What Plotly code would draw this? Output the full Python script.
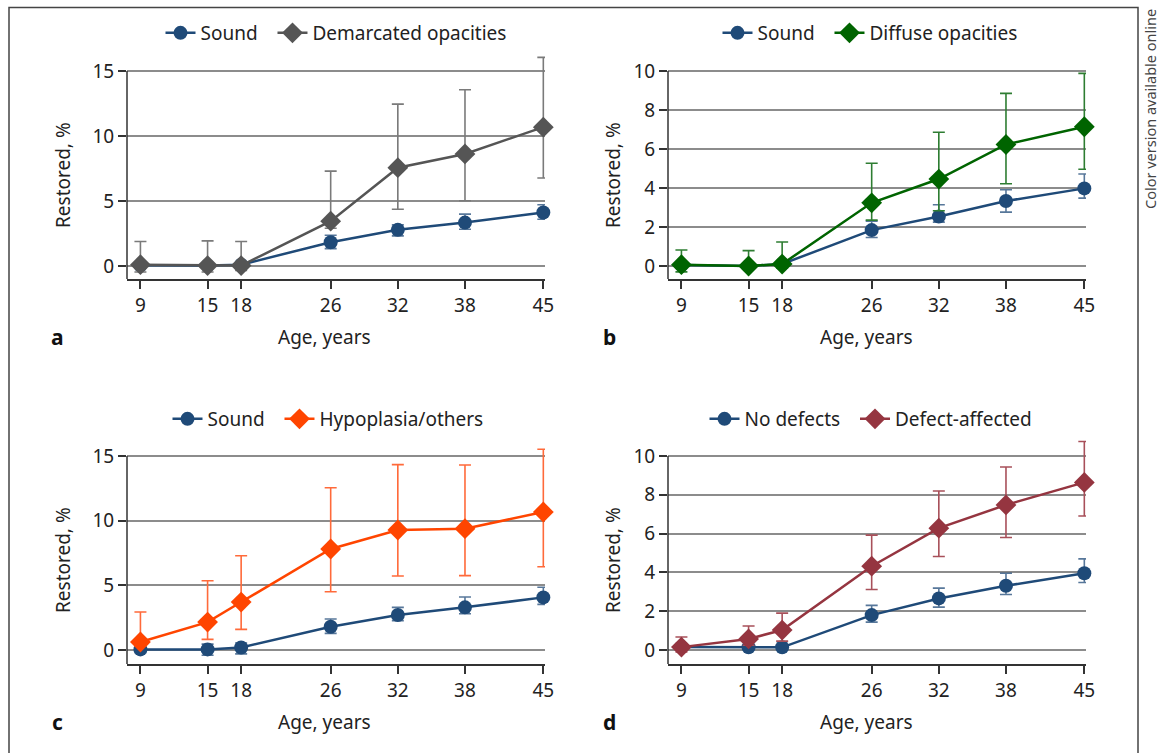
import plotly.graph_objects as go

ages = [9, 15, 18, 26, 32, 38, 45]
age_labels = ["9", "15", "18", "26", "32", "38", "45"]

# Panel a
a_sound = [0.05, 0.03, 0.1, 1.83, 2.78, 3.34, 4.12]
a_sound_up = [0.05, 0.05, 0.05, 2.37, 3.16, 3.99, 4.71]
a_sound_lo = [0.0, 0.0, 0.05, 1.34, 2.32, 2.83, 3.6]
a_dem = [0.1, 0.03, 0.03, 3.45, 7.56, 8.62, 10.68]
a_dem_up = [1.88, 1.93, 1.88, 7.3, 12.45, 13.56, 16.05]
a_dem_lo = [-0.46, -0.46, -0.35, 2.9, 4.37, 5.02, 6.77]

# Panel b
b_sound = [0.05, 0.0, 0.1, 1.84, 2.54, 3.33, 3.98]
b_sound_up = [0.05, 0.0, 0.1, 2.3, 3.14, 3.91, 4.72]
b_sound_lo = [0.05, 0.0, 0.1, 1.46, 2.25, 2.76, 3.48]
b_dif = [0.07, 0.0, 0.1, 3.24, 4.46, 6.23, 7.14]
b_dif_up = [0.82, 0.79, 1.23, 5.27, 6.86, 8.85, 9.88]
b_dif_lo = [-0.3, -0.1, -0.1, 2.35, 2.83, 4.22, 4.96]

# Panel c
c_sound = [0.05, 0.05, 0.2, 1.8, 2.71, 3.3, 4.07]
c_sound_up = [0.25, 0.46, 0.54, 2.4, 3.3, 4.1, 4.85]
c_sound_lo = [-0.2, -0.4, -0.3, 1.29, 2.27, 2.81, 3.53]
c_hyp = [0.62, 2.16, 3.71, 7.81, 9.28, 9.38, 10.67]
c_hyp_up = [2.94, 5.36, 7.29, 12.55, 14.33, 14.3, 15.52]
c_hyp_lo = [0.3, 0.82, 1.6, 4.51, 5.72, 5.75, 6.44]

# Panel d
d_nodef = [0.15, 0.14, 0.14, 1.8, 2.66, 3.31, 3.96]
d_nodef_up = [0.15, 0.14, 0.14, 2.3, 3.19, 3.96, 4.7]
d_nodef_lo = [0.15, 0.14, 0.14, 1.44, 2.21, 2.86, 3.48]
d_def = [0.15, 0.57, 1.03, 4.32, 6.28, 7.48, 8.64]
d_def_up = [0.67, 1.24, 1.9, 5.92, 8.2, 9.43, 10.75]
d_def_lo = [-0.1, 0.25, 0.46, 3.12, 4.82, 5.8, 6.91]

SOUND = "#1f4a78"
FONT = "Noto Sans"
W, H = 1159, 753
NB = "\u00a0\u00a0"

def px_x(p):
    return p / W

def px_y(p):
    return 1 - p / H

fig = go.Figure()

def add_series(name, y, up, lo, color, errcolor, symbol, size, xa, ya, legend):
    fig.add_trace(go.Scatter(
        x=ages, y=y, name=name, mode="lines+markers",
        xaxis=xa, yaxis=ya, legend=legend, cliponaxis=False,
        line=dict(color=color, width=2.5),
        marker=dict(color=color, symbol=symbol, size=size),
        error_y=dict(type="data", symmetric=False,
                     array=[u - v for u, v in zip(up, y)],
                     arrayminus=[v - l for v, l in zip(y, lo)],
                     color=errcolor, thickness=1.6, width=6),
    ))

SERR = "rgba(31,74,120,0.75)"
add_series("Sound" + NB, a_sound, a_sound_up, a_sound_lo, SOUND, SERR, "circle", 14, "x", "y", "legend")
add_series("Demarcated opacities", a_dem, a_dem_up, a_dem_lo, "#555555", "#7a7a7a", "diamond", 16, "x", "y", "legend")
add_series("Sound" + NB, b_sound, b_sound_up, b_sound_lo, SOUND, SERR, "circle", 14, "x2", "y2", "legend2")
add_series("Diffuse opacities", b_dif, b_dif_up, b_dif_lo, "#006400", "#2e7d32", "diamond", 16, "x2", "y2", "legend2")
add_series("Sound" + NB, c_sound, c_sound_up, c_sound_lo, SOUND, SERR, "circle", 14, "x3", "y3", "legend3")
add_series("Hypoplasia/others", c_hyp, c_hyp_up, c_hyp_lo, "#ff4500", "#ff6a3a", "diamond", 16, "x3", "y3", "legend3")
add_series("No defects" + NB, d_nodef, d_nodef_up, d_nodef_lo, SOUND, SERR, "circle", 14, "x4", "y4", "legend4")
add_series("Defect-affected", d_def, d_def_up, d_def_lo, "#953540", "#a8505a", "diamond", 16, "x4", "y4", "legend4")

# geometry (pixels): x extent, y pixel of top tick, y pixel of axis bottom
left_x = [(127, 545), (668, 1086), (127, 545), (668, 1086)]
top_y = [(71, 279), (71, 279), (456, 664), (456, 664)]
yranges = [[-1.0, 15], [-0.667, 10], [-1.08, 15], [-0.72, 10]]
yextra = [1.6, 1.1, 1.6, 1.1]  # headroom so error bars above the top gridline show
yticks = [[0, 5, 10, 15], [0, 2, 4, 6, 8, 10], [0, 5, 10, 15], [0, 2, 4, 6, 8, 10]]

axis_font = dict(family=FONT, size=19, color="#222222")
layout = dict(
    width=W, height=H, margin=dict(l=0, r=0, t=0, b=0, autoexpand=False),
    paper_bgcolor="white", plot_bgcolor="white",
    font=dict(family=FONT, size=19, color="#222222"),
)
shapes = []
for i in range(4):
    sx = "" if i == 0 else str(i + 1)
    xl, xr = left_x[i]
    yt, yb = top_y[i]
    lo, hi = yranges[i]
    ppu = (yb - yt) / (hi - lo)
    hi2 = hi + yextra[i]
    yt2 = yt - yextra[i] * ppu
    layout["xaxis" + sx] = dict(
        domain=[px_x(xl), px_x(xr)], range=[7.8, 45.15], anchor="y" + sx,
        tickvals=ages, ticktext=age_labels, ticks="outside", ticklen=8,
        tickcolor="#333333", tickwidth=1.5, showline=True, linecolor="#333333",
        linewidth=1.5, showgrid=False, zeroline=False, tickfont=axis_font,
        automargin=False,
    )
    layout["yaxis" + sx] = dict(
        domain=[px_y(yb), px_y(yt2)], range=[lo, hi2], anchor="x" + sx,
        tickvals=yticks[i], ticks="outside", ticklen=8, tickcolor="#333333",
        tickwidth=1.5, showline=False, showgrid=True, gridcolor="#8c8c8c",
        gridwidth=1.5, zeroline=False, tickfont=axis_font, automargin=False,
    )
    # left axis line only up to the top gridline
    shapes.append(dict(type="line", xref="x" + sx + " domain", yref="y" + sx,
                       x0=0, x1=0, y0=lo, y1=hi,
                       line=dict(color="#333333", width=1.5)))

leg_pos = [(336, 33), (870, 33), (328, 419), (871, 419)]
for i, (lx, ly) in enumerate(leg_pos):
    key = "legend" if i == 0 else "legend" + str(i + 1)
    layout[key] = dict(
        x=px_x(lx), y=px_y(ly), xanchor="center", yanchor="middle",
        orientation="h", font=dict(family=FONT, size=19, color="#222222"),
        bgcolor="rgba(0,0,0,0)", itemclick=False, tracegroupgap=0,
    )

fig.update_layout(**layout)

annots = []
xt = [(325, 337), (866, 337), (325, 722), (866, 722)]
yt_ = [(63, 175), (613, 175), (63, 560), (613, 560)]
letters = [("a", 57, 337), ("b", 609, 337), ("c", 57, 722), ("d", 609, 722)]
for (x, y) in xt:
    annots.append(dict(text="Age, years", x=px_x(x), y=px_y(y), xref="paper", yref="paper",
                       showarrow=False, xanchor="center", yanchor="middle", font=axis_font))
for (x, y) in yt_:
    annots.append(dict(text="Restored, %", x=px_x(x), y=px_y(y), xref="paper", yref="paper",
                       showarrow=False, xanchor="center", yanchor="middle", textangle=-90, font=axis_font))
for (t, x, y) in letters:
    annots.append(dict(text="<b>" + t + "</b>", x=px_x(x), y=px_y(y), xref="paper", yref="paper",
                       showarrow=False, xanchor="center", yanchor="middle",
                       font=dict(family=FONT, size=21, color="#111111")))
annots.append(dict(text="Color version available online", x=px_x(1150), y=px_y(109),
                   xref="paper", yref="paper", showarrow=False, textangle=-90,
                   xanchor="center", yanchor="middle",
                   font=dict(family=FONT, size=14.5, color="#444444")))

shapes.append(dict(type="rect", xref="paper", yref="paper",
                   x0=px_x(9), x1=px_x(1138), y0=px_y(780), y1=px_y(7.5),
                   line=dict(color="#444444", width=1.5), fillcolor="rgba(0,0,0,0)"))
fig.update_layout(annotations=annots, shapes=shapes)

post = ("document.body.style.margin='0';"
        "var gd=document.getElementById('{plot_id}');"
        "gd.style.position='absolute';gd.style.left='0px';gd.style.top='0px';")

fig.write_html("out.html", post_script=post, config={"displayModeBar": False})
